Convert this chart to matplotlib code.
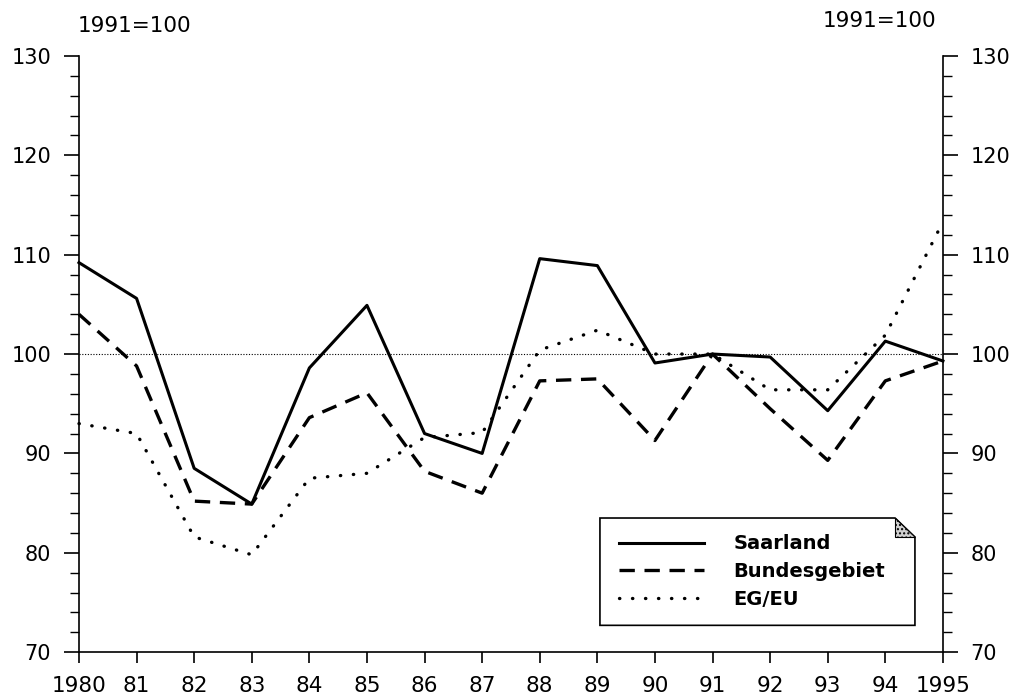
import numpy as np
import matplotlib.pyplot as plt
from matplotlib.patches import Polygon

years = np.arange(1980, 1996)
year_labels = ['1980', '81', '82', '83', '84', '85', '86', '87',
               '88', '89', '90', '91', '92', '93', '94', '1995']

saarland = [109.2, 105.6, 88.5, 84.9, 98.6, 104.9, 92.0, 90.0,
            109.6, 108.9, 99.1, 100.0, 99.7, 94.3, 101.3, 99.3]
bundesgebiet = [104.0, 98.8, 85.2, 84.9, 93.6, 96.1, 88.2, 86.0,
                97.3, 97.5, 91.3, 100.0, 94.5, 89.3, 97.3, 99.3]
eg_eu = [93.0, 92.0, 81.6, 79.8, 87.5, 88.0, 91.6, 92.1,
         100.4, 102.4, 100.0, 100.0, 96.4, 96.4, 101.9, 113.3]

fig = plt.figure(figsize=(10.15, 6.99), dpi=100)
ax = fig.add_axes([0.0778, 0.067, 0.8512, 0.853])

ax.axhline(100, color='black', lw=0.8, ls=(0, (1, 1.5)), zorder=1)

ax.plot(years, saarland, color='black', lw=2.2, label='Saarland', clip_on=False)
ax.plot(years, bundesgebiet, color='black', lw=2.4, ls=(0, (4.6, 2.9)),
        label='Bundesgebiet', clip_on=False)
ax.plot(years, eg_eu, color='black', lw=2.4, ls=(0, (0.1, 3.8)),
        dash_capstyle='round', label='EG/EU', clip_on=False)

ax.set_xlim(1980, 1995)
ax.set_ylim(70, 130)
ax.set_xticks(years)
ax.set_xticklabels(year_labels, fontsize=15.5)
ax.set_yticks(np.arange(70, 131, 10))
ax.set_yticks(np.arange(70, 131, 2), minor=True)

ax.spines['top'].set_visible(False)
for s in ['left', 'right', 'bottom']:
    ax.spines[s].set_linewidth(1.2)

ax.tick_params(axis='x', direction='out', length=8, width=1.2, pad=9)
ax.tick_params(axis='y', which='major', direction='out', length=11, width=1.2,
               left=True, right=True, labelleft=True, labelright=True,
               labelsize=15, pad=9)
ax.tick_params(axis='y', which='minor', direction='out', length=6.5, width=1.0,
               left=True, right=True)

fig.text(0.077, 0.963, '1991=100', fontsize=15.5, va='center', ha='left')
fig.text(0.811, 0.970, '1991=100', fontsize=15.5, va='center', ha='left')

# legend box with folded corner
x0, x1 = 0.603, 0.9676
y0, y1 = 0.045, 0.225
cx, cy = 0.023, 0.032
box = Polygon([(x0, y0), (x1, y0), (x1, y1 - cy), (x1 - cx, y1), (x0, y1)],
              closed=True, transform=ax.transAxes, facecolor='white',
              edgecolor='black', lw=1.2, zorder=5)
ax.add_patch(box)
fold = Polygon([(x1 - cx, y1), (x1 - cx, y1 - cy), (x1, y1 - cy)],
               closed=True, transform=ax.transAxes, facecolor='#d0d0d0',
               edgecolor='black', lw=0.8, hatch='....', zorder=6)
ax.add_patch(fold)

leg = ax.legend(loc='center', bbox_to_anchor=(0.779, 0.135), frameon=False,
                prop={'weight': 'bold', 'size': 14}, handlelength=4.4,
                handletextpad=1.5, labelspacing=0.45, borderpad=0)
leg.set_zorder(7)

fig.savefig('out.png', dpi=100)
